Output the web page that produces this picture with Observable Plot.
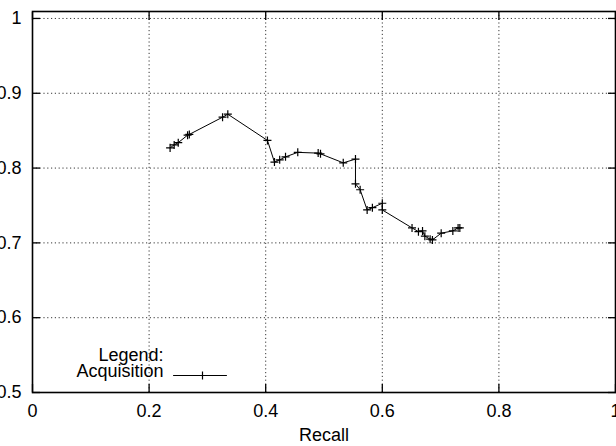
<!DOCTYPE html>
<html><head><meta charset="utf-8">
<script src="https://cdn.jsdelivr.net/npm/d3@7"></script>
<script src="https://cdn.jsdelivr.net/npm/@observablehq/plot@0.6"></script>
<style>html,body{margin:0;padding:0;background:#fff;overflow:hidden;}</style>
</head><body><div id="chart"></div>
<script>
// Data
const recall = [0.236, 0.243, 0.250, 0.266, 0.269, 0.326, 0.335, 0.403, 0.415, 0.424, 0.434, 0.455, 0.490, 0.494, 0.533, 0.554, 0.554, 0.562, 0.574, 0.583, 0.600, 0.600, 0.651, 0.662, 0.669, 0.673, 0.682, 0.686, 0.701, 0.721, 0.730, 0.733];
const precision = [0.827, 0.831, 0.834, 0.844, 0.845, 0.868, 0.872, 0.837, 0.808, 0.811, 0.815, 0.821, 0.820, 0.819, 0.807, 0.812, 0.779, 0.771, 0.744, 0.747, 0.753, 0.744, 0.720, 0.715, 0.716, 0.709, 0.705, 0.704, 0.713, 0.716, 0.720, 0.720];
const xTicks = [0, 0.2, 0.4, 0.6, 0.8, 1];
const xTickLabels = ["0", "0.2", "0.4", "0.6", "0.8", "1"];
const yTicks = [0.5, 0.6, 0.7, 0.8, 0.9, 1];
const yTickLabels = ["0.5", "0.6", "0.7", "0.8", "0.9", "1"];
const xTitle = ["Recall"];
const legendTitle = ["Legend:"];
const seriesName = ["Acquisition"];

const points = recall.map((r, i) => ({recall: r, precision: precision[i]}));
const xFmt = d => xTickLabels[xTicks.indexOf(d)];
const yFmt = d => yTickLabels[yTicks.indexOf(d)];
const blank = () => "";
const lineShape = {draw(context, l) { context.moveTo(0, 0); context.lineTo(0, -l); }};

const chart = Plot.plot({
  width: 616,
  height: 446,
  marginLeft: 32,
  marginRight: 1,
  marginTop: 11,
  marginBottom: 54,
  style: {fontFamily: "'Liberation Sans', Arial, Helvetica, sans-serif", fontSize: "18px", color: "black", background: "white"},
  x: {domain: [0, 1]},
  y: {domain: [0.5, 1.0093]},
  marks: [
    Plot.gridX(xTicks, {stroke: "#222", strokeOpacity: 0.9, strokeDasharray: "1.2,2.6"}),
    Plot.gridY(yTicks, {stroke: "#222", strokeOpacity: 0.9, strokeDasharray: "1.2,2.6"}),
    Plot.axisX(xTicks, {anchor: "bottom", tickSize: 8, dy: -8, tickPadding: 12, tickFormat: xFmt, label: null, strokeWidth: 1.3}),
    Plot.axisX(xTicks, {anchor: "top", tickSize: 8, dy: 8, tickFormat: blank, label: null, strokeWidth: 1.3}),
    Plot.axisY(yTicks, {anchor: "left", tickSize: 8, dx: 8, tickPadding: 11, tickFormat: yFmt, label: null, strokeWidth: 1.3}),
    Plot.axisY(yTicks, {anchor: "right", tickSize: 8, dx: -8, tickFormat: blank, label: null, strokeWidth: 1.3}),
    Plot.frame({stroke: "black", strokeWidth: 1.6}),
    Plot.line(points, {x: "recall", y: "precision", stroke: "black", strokeWidth: 1}),
    Plot.dot(points, {x: "recall", y: "precision", symbol: "plus", r: 2.7, stroke: "black", strokeWidth: 1.2}),
    Plot.text(xTitle, {frameAnchor: "bottom", dy: 48, text: d => d, fill: "black"}),
    Plot.text(legendTitle, {frameAnchor: "bottom-left", dx: 131, dy: -32, text: d => d, textAnchor: "end", fill: "black"}),
    Plot.text(seriesName, {frameAnchor: "bottom-left", dx: 131, dy: -16, text: d => d, textAnchor: "end", fill: "black"}),
    Plot.vector(seriesName, {frameAnchor: "bottom-left", dx: 141, dy: -17, rotate: 90, length: 53, anchor: "start", shape: lineShape, stroke: "black", strokeWidth: 1}),
    Plot.dot(seriesName, {frameAnchor: "bottom-left", dx: 170, dy: -17, symbol: "plus", r: 2.7, stroke: "black", strokeWidth: 1.2})
  ]
});
document.getElementById("chart").appendChild(chart);
</script>
</body></html>
